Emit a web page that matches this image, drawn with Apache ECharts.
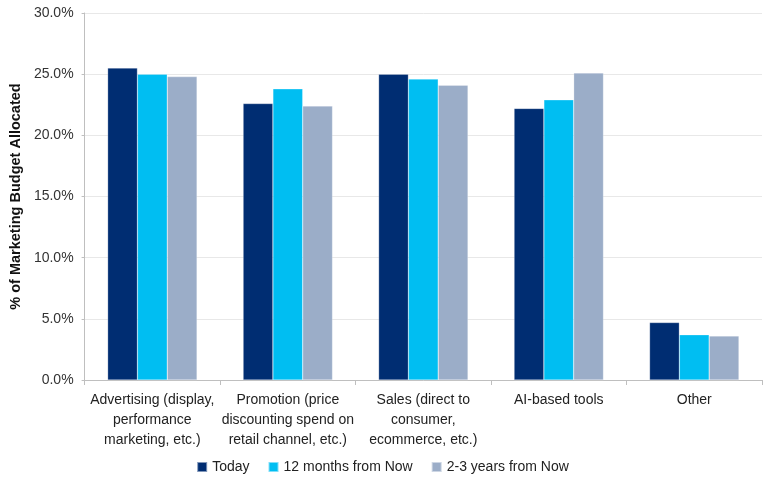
<!DOCTYPE html>
<html><head><meta charset="utf-8">
<script src="https://cdn.jsdelivr.net/npm/echarts@6/dist/echarts.min.js"></script>
<style>html,body{margin:0;padding:0;background:#fff}#c{width:765px;height:485px}</style>
</head><body><div id="c"></div>
<script>
const categories = ["Advertising (display,\nperformance\nmarketing, etc.)", "Promotion (price\ndiscounting spend on\nretail channel, etc.)", "Sales (direct to\nconsumer,\necommerce, etc.)", "AI-based tools", "Other"];
const seriesNames = ["Today", "12 months from Now", "2-3 years from Now"];
const today = [25.5, 22.6, 25.0, 22.2, 4.7];
const months12 = [25.0, 23.8, 24.6, 22.9, 3.7];
const years23 = [24.8, 22.4, 24.1, 25.1, 3.6];
const colors = ["#002D72", "#00BEF2", "#9BADC8"];
const font = "Liberation Sans, Arial, sans-serif";
const chart = echarts.init(document.getElementById('c'));
chart.setOption({
  animation: false,
  textStyle: {fontFamily: font},
  grid: {left: 81, right: 3, top: 13, bottom: 105},
  legend: {
    bottom: 6, left: 'center', itemWidth: 10, itemHeight: 10, itemGap: 18,
    icon: 'rect',
    textStyle: {fontSize: 14, color: '#222', fontFamily: font},
    data: seriesNames
  },
  xAxis: {
    type: 'category', data: categories,
    axisLine: {lineStyle: {color: '#bfbfbf'}},
    axisTick: {show: true, length: 5, lineStyle: {color: '#bfbfbf'}},
    axisLabel: {fontSize: 14, color: '#222', lineHeight: 20, margin: 10, interval: 0, fontFamily: font}
  },
  yAxis: {
    type: 'value', min: 0, max: 30, interval: 5,
    name: '% of Marketing Budget Allocated', nameLocation: 'middle', nameGap: 60,
    nameTextStyle: {fontSize: 14.5, fontWeight: 'bold', color: '#111', fontFamily: font},
    axisLine: {show: true, lineStyle: {color: '#bfbfbf'}},
    axisTick: {show: true, length: 3, lineStyle: {color: '#bfbfbf'}},
    splitLine: {lineStyle: {color: '#e8e8e8'}},
    axisLabel: {fontSize: 14, color: '#333', margin: 11, formatter: v => v.toFixed(1) + '%', fontFamily: font}
  },
  series: [today, months12, years23].map((d, i) => ({
    name: seriesNames[i], type: 'bar', data: d,
    barGap: '0%', barCategoryGap: '34%',
    itemStyle: {color: colors[i], borderColor: 'rgba(255,255,255,0.5)', borderWidth: 0.5}
  }))
});
</script></body></html>
